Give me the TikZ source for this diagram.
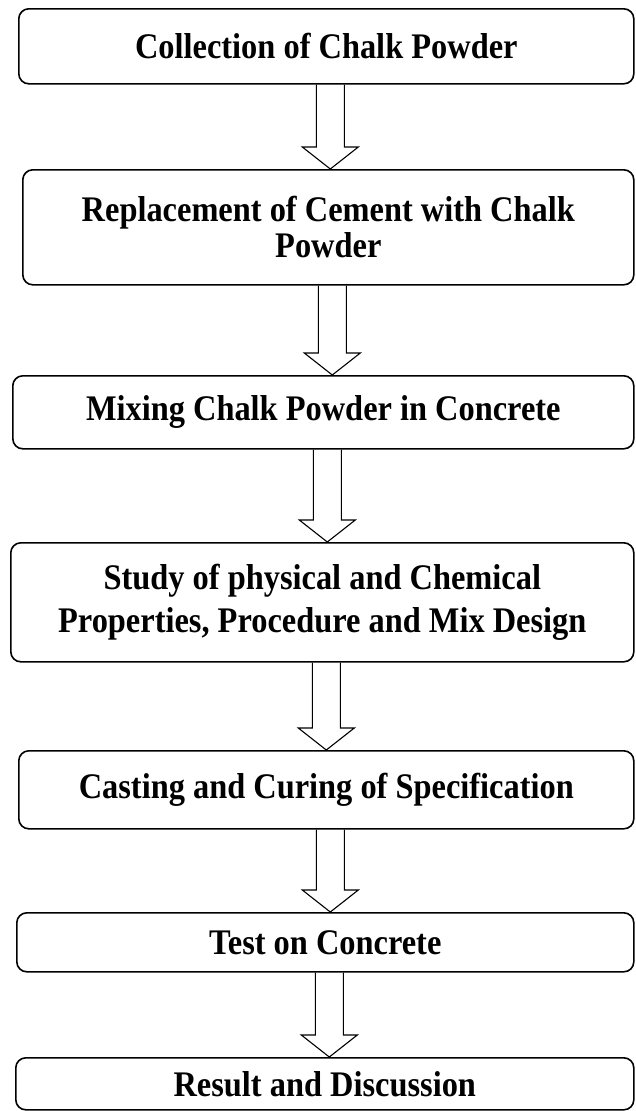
\documentclass[tikz,border=0pt]{standalone}
\usepackage{fontspec}
\setmainfont{Liberation Serif}[FakeStretch=0.9]
\usetikzlibrary{calc}

\tikzset{
	stage/.style={draw, rounded corners=10pt, line width=1.6pt, anchor=north west,
		align=center, inner sep=0pt, font=\fontsize{36}{36}\selectfont\bfseries},
	hollow/.style={line width=1.1pt, line join=miter},
}

% block arrow from the bottom of #2 to the top of #3, shifted by #1
\newcommand{\blockarrow}[3][4]{%
	\draw[hollow] ($(#2.south)+(#1-14,0)$) -- ($(#2.south |- #3.north)+(#1-14,-22)$)
		-- ++(-14,0) -- ($(#2.south |- #3.north)+(#1,0)$)
		-- ($(#2.south |- #3.north)+(#1+28,-22)$) -- ++(-14,0)
		-- ($(#2.south)+(#1+14,0)$);
}

\begin{document}
\begin{tikzpicture}[x=1pt, y=-1pt]
	\useasboundingbox (0,0) rectangle (635,1111);

	\node[stage, minimum width=615pt, minimum height=75pt] (collect) at (18,8) {Collection of Chalk Powder};
	\node[stage, minimum width=611pt, minimum height=115pt] (replace) at (22,169)
		{Replacement of Cement with Chalk\\Powder};
	\node[stage, minimum width=621pt, minimum height=73pt] (mixing) at (12,375) {Mixing Chalk Powder in Concrete};
	\node[stage, minimum width=623pt, minimum height=119pt,
		font=\fontsize{36}{43}\selectfont\bfseries] (study) at (10,542)
		{Study of physical and Chemical\\Properties, Procedure and Mix Design};
	\node[stage, minimum width=615pt, minimum height=78pt] (casting) at (18,750) {Casting and Curing of Specification};
	\node[stage, minimum width=617pt, minimum height=59pt] (testing) at (16,912) {Test on Concrete};
	\node[stage, minimum width=618pt, minimum height=52pt] (result) at (15,1057) {Result and Discussion};

	\blockarrow{collect}{replace}
	\blockarrow{replace}{mixing}
	\blockarrow{mixing}{study}
	\blockarrow{study}{casting}
	\blockarrow{casting}{testing}
	\blockarrow{testing}{result}
\end{tikzpicture}
\end{document}
